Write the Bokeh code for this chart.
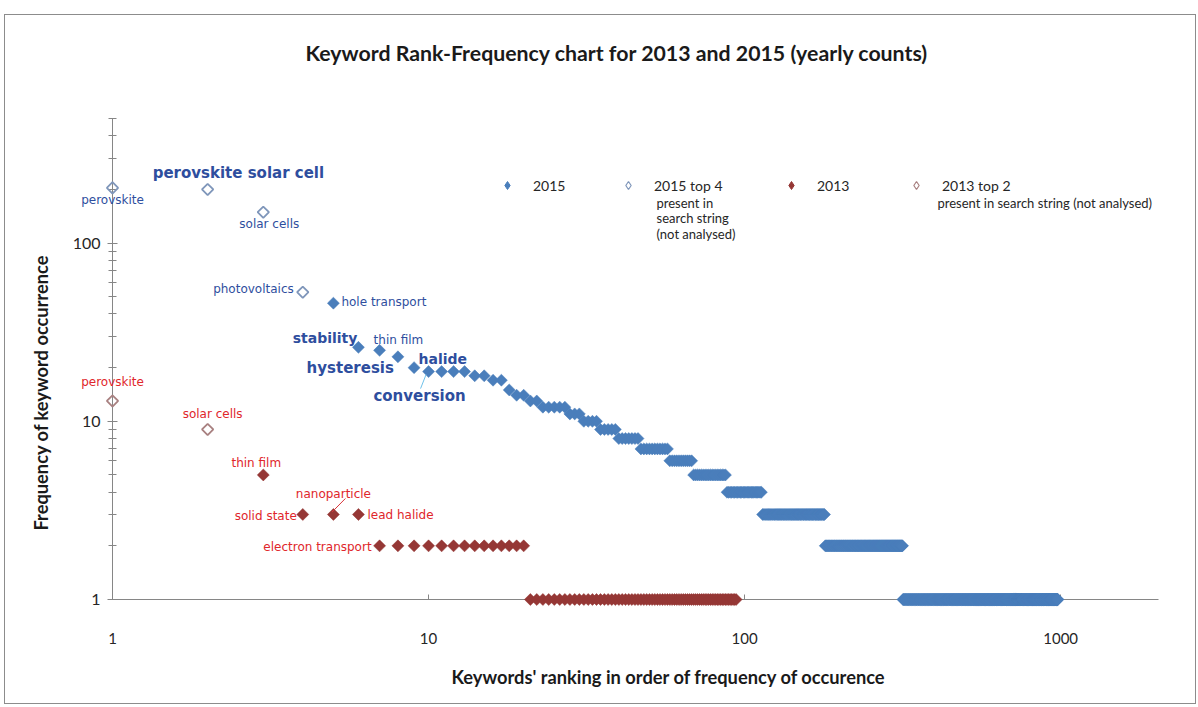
import numpy as np
from bokeh.plotting import figure
from bokeh.models import Range1d, Label, Legend, LegendItem, Title, FixedTicker, NumeralTickFormatter
from bokeh.core.properties import value
from bokeh.embed import file_html
from bokeh.resources import INLINE

# ---------------- data ----------------
title_text = "Keyword Rank-Frequency chart for 2013 and 2015  (yearly counts)"
x_label = "Keywords' ranking in order of frequency of occurence"
y_label = "Frequency of keyword occurrence"

x_ticks = [1, 10, 100, 1000]

# 2015: top 4 keywords (present in search string, not analysed)
top_2015_rank = [1, 2, 3, 4]
top_2015_freq = [204, 200, 149, 53]
# 2015: remaining keywords, runs of equal frequency starting at rank 5
run_2015_freq = [46, 26, 25, 23, 20, 19, 18, 17, 15, 14, 13, 12, 11, 10, 9, 8, 7, 6, 5, 4, 3, 2, 1]
run_2015_count = [1, 1, 1, 1, 1, 4, 2, 2, 1, 2, 2, 5, 3, 4, 5, 7, 11, 11, 19, 26, 66, 137, 664]
first_rank_2015 = 5

# 2013: top 2 keywords (present in search string, not analysed)
top_2013_rank = [1, 2]
top_2013_freq = [13, 9]
# 2013: remaining keywords, runs starting at rank 3
run_2013_freq = [5, 3, 2, 1]
run_2013_count = [1, 3, 14, 74]
first_rank_2013 = 3

labels_2015 = ["perovskite", "perovskite  solar  cell", "solar cells", "photovoltaics",
               "hole transport", "stability", "thin film", "hysteresis", "halide", "conversion"]
label_rank_2015 = [1, 2, 3, 4, 5, 6, 7, 8, 10, 10]
labels_2013 = ["perovskite", "solar cells", "thin film", "solid state", "nanoparticle",
               "lead halide", "electron transport"]
label_rank_2013 = [1, 2, 3, 4, 5, 6, 7]

legend_names = ["2015", "2015 top 4", "2013", "2013 top 2"]
legend_notes = [["present in", "search string", "(not analysed)"],
                ["present in search string (not analysed)"]]

# expand runs
freq_2015 = np.repeat(run_2015_freq, run_2015_count)
rank_2015 = np.arange(first_rank_2015, first_rank_2015 + len(freq_2015))
freq_2013 = np.repeat(run_2013_freq, run_2013_count)
rank_2013 = np.arange(first_rank_2013, first_rank_2013 + len(freq_2013))

all_2015 = dict(zip(list(top_2015_rank) + list(rank_2015), list(top_2015_freq) + list(freq_2015)))
all_2013 = dict(zip(list(top_2013_rank) + list(rank_2013), list(top_2013_freq) + list(freq_2013)))

# ---------------- styling ----------------
BLUE = "#4A7EBB"
RED = "#953735"
BLUE_HOLLOW = "#7F96BA"
RED_HOLLOW = "#A88080"
BLUE_TXT = "#2E4E9E"
RED_TXT = "#E0262B"
AXIS = "#868686"
FONT = "Lato"
LFONT = "DejaVu Sans"

W, H = 1192, 690
XMIN, XMAX = 1, 2040
YMIN, YMAX = 1, 500
ML, MR, MT, MB = 107, 39, 103, 106

p = figure(width=W, height=H, x_axis_type="log", y_axis_type="log",
           x_range=Range1d(XMIN, XMAX), y_range=Range1d(YMIN, YMAX),
           output_backend="svg", toolbar_location=None,
           min_border_left=ML, min_border_right=MR, min_border_top=MT, min_border_bottom=MB)
p.styles = {"margin-left": "4px", "margin-top": "14px", "border": "1px solid #8c8c8c"}
p.xgrid.visible = False
p.ygrid.visible = False
p.outline_line_color = None
p.background_fill_color = "white"
p.border_fill_color = "white"

PXX = (W - ML - MR) / (np.log10(XMAX) - np.log10(XMIN))
PXY = (H - MT - MB) / (np.log10(YMAX) - np.log10(YMIN))

# title: a thin spacer next to the frame, then the chart title above it
p.add_layout(Title(text=" ", text_font_size="2px", standoff=44), "above")
p.add_layout(Title(text=title_text, align="left", offset=193, text_font=FONT, text_font_size="21.3px",
                   text_font_style="bold", text_color="#1a1a1a", standoff=10), "above")

# axes
xa = p.xaxis[0]
xa.ticker = FixedTicker(ticks=x_ticks, minor_ticks=[])
xa.formatter = NumeralTickFormatter(format="0")
xa.axis_line_color = AXIS
xa.major_tick_line_color = AXIS
xa.major_tick_in = 5
xa.major_tick_out = 0
xa.minor_tick_line_color = None
xa.major_label_standoff = 33
xa.major_label_text_font = FONT
xa.major_label_text_font_size = "15px"
xa.major_label_text_color = "#262626"

ya = p.yaxis[0]
ya.formatter = NumeralTickFormatter(format="0")
ya.axis_line_color = AXIS
ya.major_tick_line_color = AXIS
ya.minor_tick_line_color = AXIS
ya.major_tick_in = 5
ya.major_tick_out = 5
ya.minor_tick_in = 4
ya.minor_tick_out = 4
ya.major_label_standoff = 7
ya.major_label_text_font = FONT
ya.major_label_text_font_size = "16px"
ya.major_label_text_color = "#262626"

# axis titles (placed as side titles so they can be positioned like the original)
p.add_layout(Title(text=x_label, align="left", offset=339, text_font=FONT, text_font_size="18.3px",
                   text_font_style="bold", text_color="#1a1a1a", standoff=34), "below")
p.add_layout(Title(text=y_label, align="left", offset=69, text_font=FONT, text_font_size="18.3px",
                   text_font_style="bold", text_color="#1a1a1a", standoff=36), "left")

# data markers (rotated squares = diamonds); overlay level so they are not clipped at the axes
ANG = np.pi / 4
p.scatter(rank_2015, freq_2015, marker="square", size=8.5, angle=ANG,
          fill_color=BLUE, line_color=BLUE, line_width=0.5, level="overlay")
p.scatter(rank_2013, freq_2013, marker="square", size=8.5, angle=ANG,
          fill_color=RED, line_color=RED, line_width=0.5, level="overlay")
p.scatter(top_2015_rank, top_2015_freq, marker="square", size=8, angle=ANG,
          fill_color=None, line_color=BLUE_HOLLOW, line_width=1.8, level="overlay")
p.scatter(top_2013_rank, top_2013_freq, marker="square", size=8, angle=ANG,
          fill_color=None, line_color=RED_HOLLOW, line_width=1.8, level="overlay")

# legend symbol renderers (a single NaN point each: only drawn in the legend)
NAN = [np.nan]
lg = [p.scatter(NAN, NAN, marker="diamond", fill_color=BLUE, line_color=BLUE),
      p.scatter(NAN, NAN, marker="diamond", fill_color="white", line_color=BLUE_HOLLOW, line_width=1.2),
      p.scatter(NAN, NAN, marker="diamond", fill_color=RED, line_color=RED),
      p.scatter(NAN, NAN, marker="diamond", fill_color="white", line_color=RED_HOLLOW, line_width=1.2)]
legend_x = [385, 506, 669, 794]
for rend, name, lx in zip(lg, legend_names, legend_x):
    leg = Legend(items=[LegendItem(label=name, renderers=[rend])], location=(lx, 404),
                 background_fill_alpha=0, border_line_color=None, padding=0, margin=0,
                 glyph_width=20, glyph_height=20, label_standoff=16,
                 label_text_font=FONT, label_text_font_size="14px", label_text_color="#262626")
    p.add_layout(leg, "center")

note_pos = [(544, 397), (825, 397)]
for lines, (nx, ny) in zip(legend_notes, note_pos):
    for i, t in enumerate(lines):
        p.add_layout(Label(x=nx, y=ny - 15.5 * i, x_units="screen", y_units="screen", text=t,
                           text_font=FONT, text_font_size="13px", text_color="#262626",
                           text_baseline="middle", text_align="left"))

# point annotations: (dx, dy_up, align, size, bold)
style_2015 = [(0, -12, "center", 12, False), (-55, 16, "left", 15, True), (6, -12, "center", 12, False),
              (-9, 3, "right", 12, False), (8, 1, "left", 12, False), (-1, 9, "right", 14, True),
              (-6, 10, "left", 12, False), (-4, -11, "right", 15, True), (-10, 13, "left", 14, True),
              (-9, -24, "center", 15, True)]
style_2013 = [(0, 19, "center", 12, False), (5, 15, "center", 12, False), (-7, 12, "center", 12, False),
              (-6, -2, "right", 12, False), (0, 20, "center", 12, False), (9, -1, "left", 12, False),
              (-8, -1, "right", 12, False)]

for texts, ranks, table, styles, col in [(labels_2015, label_rank_2015, all_2015, style_2015, BLUE_TXT),
                                         (labels_2013, label_rank_2013, all_2013, style_2013, RED_TXT)]:
    for t, r, (dx, dy, al, fs, bold) in zip(texts, ranks, styles):
        p.text(x=[r], y=[table[r]], text=[t], x_offset=dx, y_offset=-dy, text_align=al,
               text_baseline="middle", text_font=value(LFONT), text_font_size=value(f"{fs}px"),
               text_font_style="bold" if bold else "normal", text_color=col, level="overlay")

# leader lines (pixel offsets from their anchor points)
def off(rk, fq, dx, dy_down):
    return rk * 10 ** (dx / PXX), fq * 10 ** (-dy_down / PXY)

a = (10, all_2015[10])
x0, y0 = off(*a, -2.5, 3)
x1, y1 = off(*a, -8, 17)
p.segment([x0], [y0], [x1], [y1], line_color="#6EC1EA", line_width=1, level="overlay")
b = (5, all_2013[5])
x0, y0 = off(*b, -1.3, -2.5)
x1, y1 = off(*b, 12, -16)
p.segment([x0], [y0], [x1], [y1], line_color="#D9363B", line_width=1, level="overlay")

open("out.html", "w").write(file_html(p, INLINE))
